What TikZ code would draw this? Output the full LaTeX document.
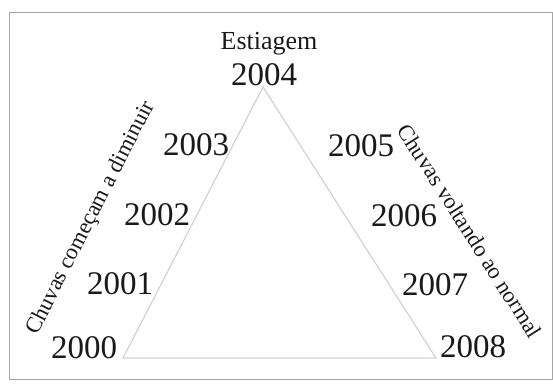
\documentclass[tikz,border=0pt]{standalone}
\usepackage{fontspec}
\setmainfont{Liberation Serif}
\usepackage[x11names]{xcolor}
\usetikzlibrary{calc, positioning}

\begin{document}
\begin{tikzpicture}[x=1pt, y=-1pt,
    year/.style={inner sep=0pt, text=black!90, font=\fontsize{33}{36}\selectfont},
    phase/.style={inner sep=0pt, text=black!90, font=\fontsize{22.5}{25}\selectfont},
    side/.style={gray!35, line width=1.2pt}]

    \useasboundingbox (0,0) rectangle (553,383);

    %% Frame
    \draw[gray!70, line width=1pt] (9,12) rectangle (552,379);

    %% Triangle
    \coordinate (low) at (123,358);
    \coordinate (top) at (263,87);
    \coordinate (high) at (436,358);
    \draw[side] (low) -- (top) -- (high) -- cycle;

    % Years
    \foreach \yr/\x/\y in {2000/84/348, 2001/120/284, 2002/157/215, 2003/196/145,
                           2004/264/75, 2005/361/146, 2006/404/216, 2007/435/285,
                           2008/473/347}
    \node[year] (y\yr) at (\x,\y) {\yr};

    % Phases
    \node[phase, font=\fontsize{26}{28}\selectfont] (dry) at (269,44) {Estiagem};
    \node[phase, rotate=63] (less) at (91,218) {Chuvas começam a diminuir};
    \node[phase, rotate=-57.5] (back) at (470,231) {Chuvas voltando ao normal};

\end{tikzpicture}
\end{document}
